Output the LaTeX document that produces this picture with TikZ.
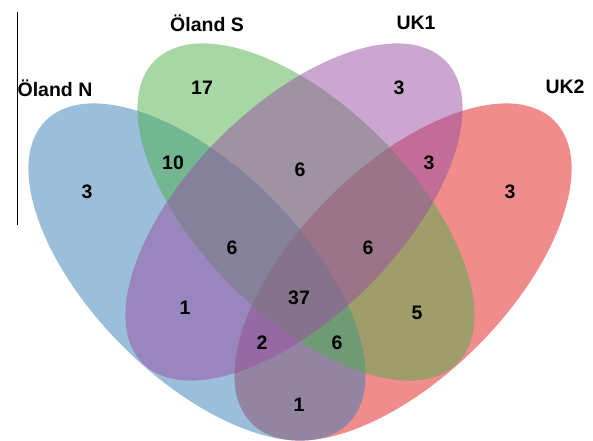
\documentclass[tikz,border=0pt]{standalone}
\usepackage{fontspec}
\setmainfont{Liberation Sans}
\usepackage{tikz}
\definecolor{setblue}{RGB}{55,126,184}
\definecolor{setgreen}{RGB}{77,175,74}
\definecolor{setpurple}{RGB}{152,78,163}
\definecolor{setred}{RGB}{228,26,28}
\tikzset{
  petal/.style={fill opacity=0.5},
  count/.style={font=\fontsize{19.5}{22}\selectfont\bfseries},
  setname/.style={font=\fontsize{19.5}{22}\selectfont\bfseries}
}

\begin{document}
\begin{tikzpicture}[x=1pt,y=-1pt]
      \useasboundingbox (0,0) rectangle (593,440);
      \fill[setred,petal,rotate around={45:(403,272)}] (403,272) ellipse [x radius=214, y radius=105];
      \fill[setblue,petal,rotate around={-45:(197,272)}] (197,272) ellipse [x radius=214, y radius=105];
      \fill[setgreen,petal,rotate around={-45:(306,212)}] (306,212) ellipse [x radius=214, y radius=105];
      \fill[setpurple,petal,rotate around={45:(294,212)}] (294,212) ellipse [x radius=214, y radius=105];
      \draw[line width=0.8pt] (17,12) -- (17,225);
      \node[setname] (olandN) at (55,88) {Öland N};
      \node[setname] (olandS) at (207,23) {Öland S};
      \node[setname] (ukone) at (416,23) {UK1};
      \node[setname] (uktwo) at (565,87) {UK2};
      \node[count] (n) at (87,192) {3};
      \node[count] (ns) at (173,163) {10};
      \node[count] (s) at (202,88) {17};
      \node[count] (u) at (399,88) {3};
      \node[count] (uv) at (429,163) {3};
      \node[count] (v) at (510,192) {3};
      \node[count] (su) at (300,170) {6};
      \node[count] (nsu) at (232,248) {6};
      \node[count] (suv) at (368,248) {6};
      \node[count] (nu) at (185,308) {1};
      \node[count] (all) at (299,298) {37};
      \node[count] (sv) at (417,313) {5};
      \node[count] (nuv) at (262,343) {2};
      \node[count] (nsv) at (337,343) {6};
      \node[count] (nv) at (299,405) {1};
    \end{tikzpicture}
\end{document}
